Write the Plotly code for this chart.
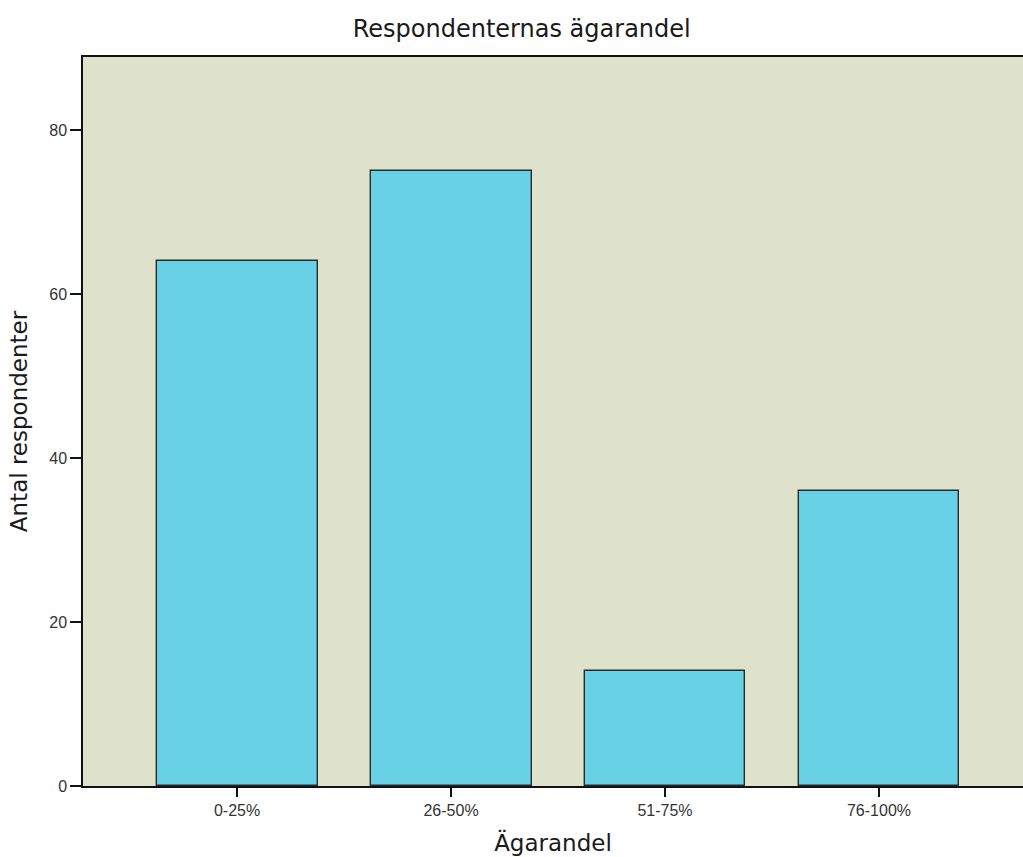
import plotly.graph_objects as go

categories = ["0-25%", "26-50%", "51-75%", "76-100%"]
counts = [64, 75, 14, 36]
y_ticks = [0, 20, 40, 60, 80]

fig = go.Figure()
fig.add_trace(go.Bar(
    x=categories, y=counts,
    width=0.752,
    marker=dict(color="#68d1e6", line=dict(color="#2a2a2a", width=1.4)),
))

fig.update_layout(
    width=1023, height=857,
    margin=dict(l=83, r=0, t=57, b=71),
    paper_bgcolor="white",
    plot_bgcolor="#dfe2cb",
    showlegend=False,
    title=dict(text="Respondenternas ägarandel", x=0.51, xanchor="center",
               yref="container", y=1 - 28.5 / 857, yanchor="middle",
               font=dict(family="DejaVu Sans", size=24, color="#1a1a1a")),
    bargap=0,
)
fig.update_xaxes(
    type="category", range=[-0.72, 3.673],
    showline=True, linecolor="#111", linewidth=1.5, mirror=True,
    ticks="outside", ticklen=9, tickcolor="#111", tickwidth=1.5,
    tickfont=dict(family="Liberation Sans", size=16, color="#333"),
    title=dict(text="Ägarandel", font=dict(family="DejaVu Sans", size=23, color="#1a1a1a"), standoff=17),
    showgrid=False,
)
fig.update_yaxes(
    range=[0, 88.9], tickvals=y_ticks,
    showline=True, linecolor="#111", linewidth=1.5,
    ticks="outside", ticklen=11, tickcolor="#111", tickwidth=1.5,
    ticklabelstandoff=0,
    tickfont=dict(family="Liberation Sans", size=16, color="#333"),
    title=dict(text="Antal respondenter", font=dict(family="DejaVu Sans", size=23, color="#1a1a1a"), standoff=15),
    showgrid=False, zeroline=False,
)
fig.write_html("out.html", config={"displayModeBar": False},
               post_script="document.body.style.margin='0';")
